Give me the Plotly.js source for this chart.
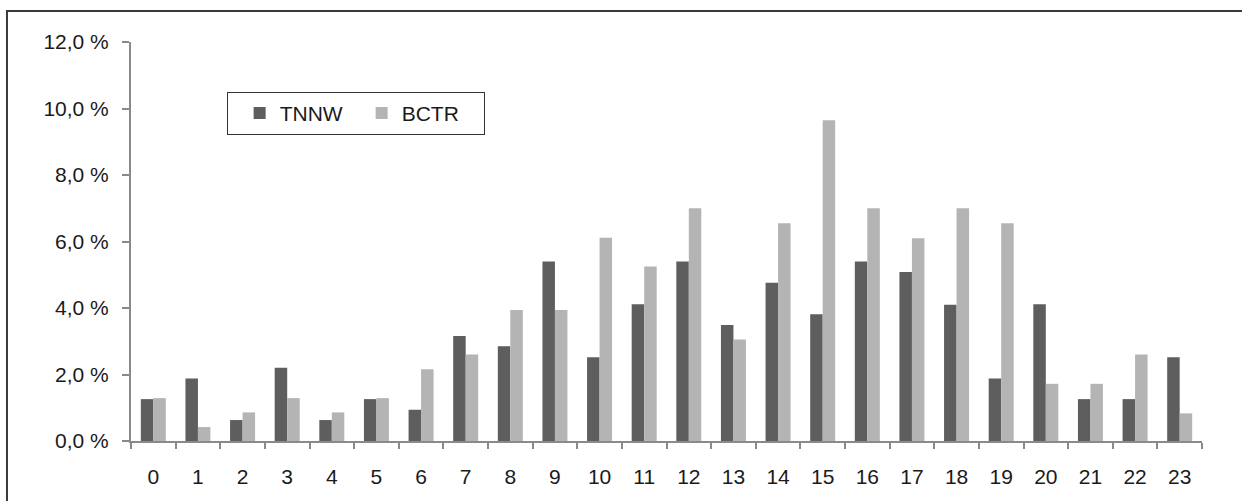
<!DOCTYPE html>
<html>
<head>
<meta charset="utf-8">
<script src="https://cdn.plot.ly/plotly-3.0.1.min.js"></script>
<style>html,body{margin:0;padding:0;background:#fff;}#chart{width:1242px;height:501px;}</style>
</head>
<body>
<div id="chart"></div>
<script>
const hours = ["0","1","2","3","4","5","6","7","8","9","10","11","12","13","14","15","16","17","18","19","20","21","22","23"];
const tnnw = [1.26,1.88,0.63,2.20,0.63,1.26,0.94,3.16,2.85,5.40,2.52,4.11,5.40,3.49,4.76,3.81,5.40,5.08,4.10,1.88,4.11,1.26,1.26,2.52];
const bctr = [1.29,0.42,0.86,1.29,0.86,1.29,2.16,2.60,3.94,3.94,6.11,5.25,7.00,3.05,6.55,9.65,7.00,6.10,7.00,6.55,1.72,1.72,2.60,0.83];
const seriesNames = ["TNNW","BCTR"];
const yTicks = [0,2,4,6,8,10,12];
const yTickText = ["0,0 %","2,0 %","4,0 %","6,0 %","8,0 %","10,0 %","12,0 %"];

const font = {family:"Liberation Sans, Arial, sans-serif", size:21, color:"#1a1a1a"};
const traces = [
  {type:"bar", name:seriesNames[0], x:hours, y:tnnw, marker:{color:"#5e5e5e"}},
  {type:"bar", name:seriesNames[1], x:hours, y:bctr, marker:{color:"#b4b4b4"}}
];
const layout = {
  width:1242, height:501,
  margin:{l:131, r:40, t:42, b:60, pad:0},
  paper_bgcolor:"#ffffff", plot_bgcolor:"#ffffff",
  font:font,
  barmode:"group", bargap:0.44, bargroupgap:0,
  showlegend:true,
  legend:{orientation:"h", x:0.0896, y:0.875, xanchor:"left", yanchor:"top",
          bordercolor:"#333333", borderwidth:1, bgcolor:"#ffffff",
          font:{family:font.family, size:21, color:"#1a1a1a"},
          title:{text:"\u00a0", side:"left", font:{size:6}},
          entrywidth:77, entrywidthmode:"pixels"},
  xaxis:{type:"category", showline:true, linecolor:"#8a8a8a", linewidth:2,
         ticks:"outside", tickson:"boundaries", ticklen:6, tickcolor:"#8a8a8a", tickwidth:2,
         showgrid:false, zeroline:false, ticklabelstandoff:16, fixedrange:true},
  yaxis:{range:[0,12], tickmode:"array", tickvals:yTicks, ticktext:yTickText,
         showline:true, linecolor:"#8a8a8a", linewidth:2,
         ticks:"outside", ticklen:7, tickcolor:"#8a8a8a", tickwidth:2,
         showgrid:false, zeroline:false, ticklabelstandoff:9, fixedrange:true},
  shapes:[{type:"rect", xref:"paper", yref:"paper", x0:-0.1158, x1:1.06, y0:-0.2, y1:1.0777,
           line:{color:"#3a3a3a", width:2}, fillcolor:"rgba(0,0,0,0)", layer:"below"}]
};
Plotly.newPlot("chart", traces, layout, {displayModeBar:false, staticPlot:true});
</script>
</body>
</html>
